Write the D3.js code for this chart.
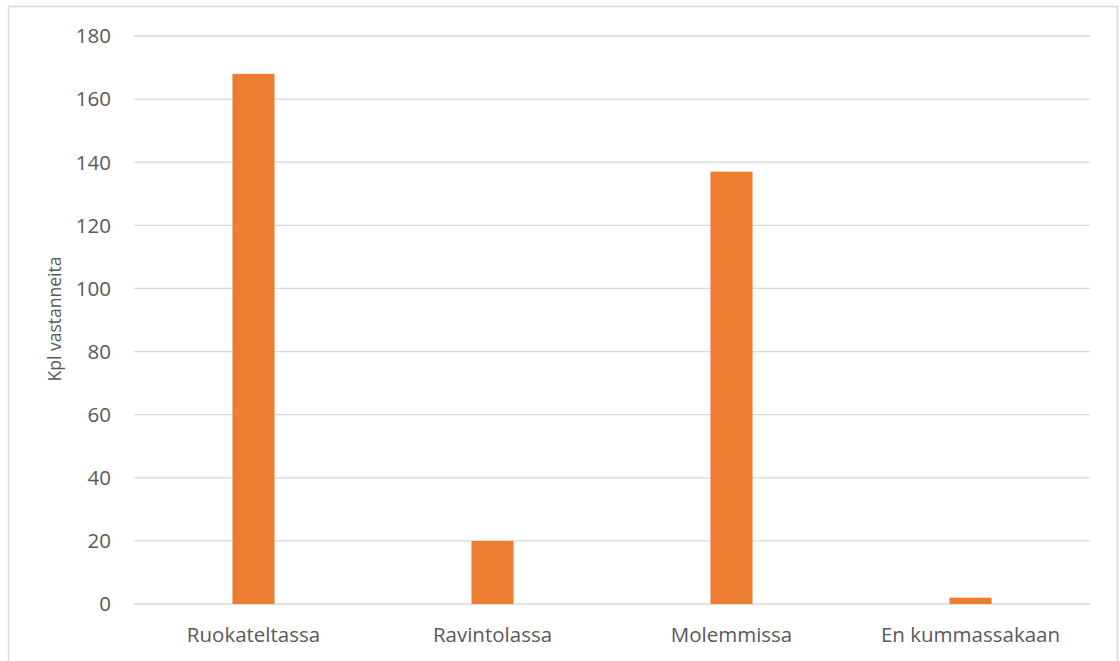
<!DOCTYPE html>
<html><head><meta charset="utf-8">
<script src="https://cdn.jsdelivr.net/npm/d3@7"></script>
<style>body{margin:0;background:#fff;} text{font-family:"Open Sans","Noto Sans",sans-serif;}</style>
</head><body>
<svg id="c" width="1120" height="661"></svg>
<script>
const categories = ["Ruokateltassa","Ravintolassa","Molemmissa","En kummassakaan"];
const values = [168, 20, 137, 2];
const yTicks = [0,20,40,60,80,100,120,140,160,180];
const yTitle = "Kpl vastanneita";

const svg = d3.select("#c");
svg.append("rect").attr("x",8.5).attr("y",6.5).attr("width",1109).attr("height",700)
  .attr("fill","#fff").attr("stroke","#d9d9d9").attr("stroke-width",1.5);

const x = d3.scaleBand().domain(categories).range([134,1090]).paddingInner(0.824).paddingOuter(0.412);
const y = d3.scaleLinear().domain([0,180]).range([604,36]);

const g = svg.append("g");
g.selectAll("line.grid").data(yTicks).enter().append("line")
  .attr("x1",134).attr("x2",1090).attr("y1",d=>y(d)).attr("y2",d=>y(d))
  .attr("stroke","#d9d9d9").attr("stroke-width",1.3);

g.selectAll("text.yt").data(yTicks).enter().append("text")
  .attr("x",111).attr("y",d=>y(d)).attr("dy","0.36em").attr("text-anchor","end")
  .attr("font-size",20.5).attr("fill","#595959").text(d=>d);

g.selectAll("rect.bar").data(values).enter().append("rect")
  .attr("x",(d,i)=>x(categories[i])).attr("width",x.bandwidth())
  .attr("y",d=>y(d)).attr("height",d=>y(0)-y(d)).attr("fill","#ed7d31");

g.selectAll("text.xt").data(categories).enter().append("text")
  .attr("x",d=>x(d)+x.bandwidth()/2).attr("y",642).attr("text-anchor","middle")
  .attr("font-size",20.5).attr("fill","#595959").text(d=>d);

svg.append("text").attr("transform","translate(55,319) rotate(-90)")
  .attr("text-anchor","middle").attr("dy","0.35em").attr("font-size",17.5).attr("fill","#595959").text(yTitle);
</script>
</body></html>
